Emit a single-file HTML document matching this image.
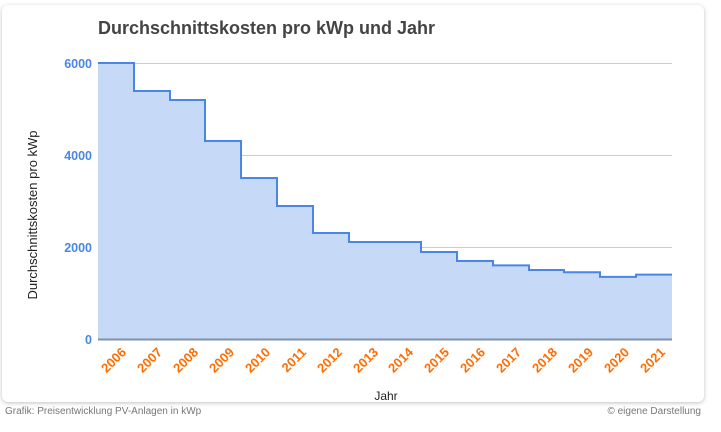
<!DOCTYPE html>
<html><head><meta charset="utf-8"><style>
body{margin:0;width:721px;height:432px;background:#fff;font-family:"Liberation Sans",sans-serif;position:relative;overflow:hidden}
.card{position:absolute;left:2px;top:5px;width:702px;height:397px;background:#fff;border-radius:6px;box-shadow:0 1px 4px rgba(0,0,0,.25)}
.foot{position:absolute;top:406px;font-size:10px;color:#777}
</style></head><body>
<div class="card"></div>
<svg style="position:absolute;left:0;top:0" width="721" height="432">
<text x="98" y="34" font-size="18" font-weight="bold" fill="#444">Durchschnittskosten pro kWp und Jahr</text>
<g stroke="#ccc" stroke-width="1">
<line x1="98" x2="672" y1="63.5" y2="63.5"/><line x1="98" x2="672" y1="155.5" y2="155.5"/><line x1="98" x2="672" y1="247.5" y2="247.5"/>
</g>
<g font-size="12.5" font-weight="bold" fill="#4a86e8" text-anchor="end">
<text x="92" y="68">6000</text><text x="92" y="160">4000</text><text x="92" y="252">2000</text><text x="92" y="344">0</text>
</g>
<path d="M98,339 L98,63 L134,63 L134,91 L170,91 L170,100 L205,100 L205,141 L241,141 L241,178 L277,178 L277,206 L313,206 L313,233 L349,233 L349,242 L421,242 L421,252 L457,252 L457,261 L493,261 L493,265.4 L529,265.4 L529,270 L564,270 L564,272.3 L600,272.3 L600,276.9 L636,276.9 L636,274.6 L672,274.6 L672,339 Z" fill="#c6d9f7"/>
<path d="M98,63 L134,63 L134,91 L170,91 L170,100 L205,100 L205,141 L241,141 L241,178 L277,178 L277,206 L313,206 L313,233 L349,233 L349,242 L421,242 L421,252 L457,252 L457,261 L493,261 L493,265.4 L529,265.4 L529,270 L564,270 L564,272.3 L600,272.3 L600,276.9 L636,276.9 L636,274.6 L672,274.6" fill="none" stroke="#4a86e8" stroke-width="2"/>
<line x1="98" x2="672" y1="339.5" y2="339.5" stroke="#8090a8" stroke-width="2"/>
<g font-size="13" font-weight="bold" fill="#ff6d01" text-anchor="end">
<g transform="translate(127,353) rotate(-45)"><text>2006</text></g>
<g transform="translate(163,353) rotate(-45)"><text>2007</text></g>
<g transform="translate(199,353) rotate(-45)"><text>2008</text></g>
<g transform="translate(235,353) rotate(-45)"><text>2009</text></g>
<g transform="translate(271,353) rotate(-45)"><text>2010</text></g>
<g transform="translate(307,353) rotate(-45)"><text>2011</text></g>
<g transform="translate(343,353) rotate(-45)"><text>2012</text></g>
<g transform="translate(379,353) rotate(-45)"><text>2013</text></g>
<g transform="translate(414,353) rotate(-45)"><text>2014</text></g>
<g transform="translate(450,353) rotate(-45)"><text>2015</text></g>
<g transform="translate(486,353) rotate(-45)"><text>2016</text></g>
<g transform="translate(522,353) rotate(-45)"><text>2017</text></g>
<g transform="translate(558,353) rotate(-45)"><text>2018</text></g>
<g transform="translate(594,353) rotate(-45)"><text>2019</text></g>
<g transform="translate(630,353) rotate(-45)"><text>2020</text></g>
<g transform="translate(666,353) rotate(-45)"><text>2021</text></g>
</g>
<text x="386" y="400" font-size="12" fill="#222" text-anchor="middle">Jahr</text>
<text transform="translate(37,215) rotate(-90)" font-size="13" fill="#222" text-anchor="middle">Durchschnittskosten pro kWp</text>
</svg>
<div class="foot" style="left:5px">Grafik: Preisentwicklung PV-Anlagen in kWp</div>
<div class="foot" style="right:20px">© eigene Darstellung</div>
</body></html>
